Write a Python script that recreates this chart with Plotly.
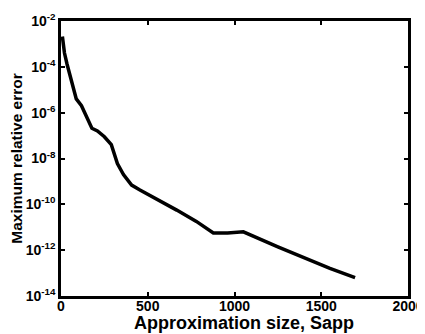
import plotly.graph_objects as go

size = [8, 20, 35, 60, 88, 118, 150, 178, 210, 250, 290, 305, 325, 360, 407,
        455, 560, 667, 780, 878, 960, 1051, 1250, 1435, 1550, 1695]
max_rel_err = [2.1e-3, 4.0e-4, 1.3e-4, 2.5e-5, 4.0e-6, 2.0e-6, 6.3e-7, 2.1e-7,
               1.6e-7, 8.9e-8, 4.0e-8, 1.6e-8, 6.0e-9, 2.0e-9, 6.9e-10,
               4.2e-10, 1.6e-10, 5.6e-11, 1.8e-11, 5.6e-12, 5.6e-12, 6.3e-12,
               1.4e-12, 3.5e-13, 1.6e-13, 6.3e-14]

y_tickvals = [1e-2, 1e-4, 1e-6, 1e-8, 1e-10, 1e-12, 1e-14]
y_ticktext = ["10<sup>-2</sup>", "10<sup>-4</sup>", "10<sup>-6</sup>", "10<sup>-8</sup>",
              "10<sup>-10</sup>", "10<sup>-12</sup>", "10<sup>-14</sup>"]
x_tickvals = [0, 500, 1000, 1500, 2000]
x_ticktext = ["0", "500", "1000", "1500", "2000"]
x_title = "Approximation size, Sapp"
y_title = "Maximum relative error"

font = dict(family="Liberation Sans, Arial, sans-serif", color="black", weight="bold")

fig = go.Figure(go.Scatter(x=size, y=max_rel_err, mode="lines",
                           line=dict(color="black", width=3.5)))

axis_common = dict(showline=True, linecolor="black", linewidth=2.5, mirror="allticks",
                   ticks="inside", ticklen=4, tickwidth=1.5, tickcolor="black",
                   showgrid=False, zeroline=False, automargin=False)

fig.update_xaxes(range=[0, 2000], tickvals=x_tickvals, ticktext=x_ticktext,
                 tickfont=dict(size=14, **font), ticklabelstandoff=-5, **axis_common)
fig.update_yaxes(type="log", range=[-14, -2], tickvals=y_tickvals, ticktext=y_ticktext,
                 tickfont=dict(size=14, **font),
                 title=dict(text=y_title, font=dict(size=15.5, **font), standoff=2),
                 **axis_common)

fig.add_annotation(text=x_title, xref="paper", yref="paper", x=0.527, y=0,
                   xanchor="center", yanchor="bottom", yshift=-37.5, showarrow=False,
                   borderpad=0, font=dict(size=18, **font))

# page has an 8px body margin, so the figure is sized to fit the 425x334 window
fig.update_layout(width=417, height=326, margin=dict(l=53, r=17, t=13, b=38),
                  plot_bgcolor="white", paper_bgcolor="white", showlegend=False)

fig.write_html("out.html")
